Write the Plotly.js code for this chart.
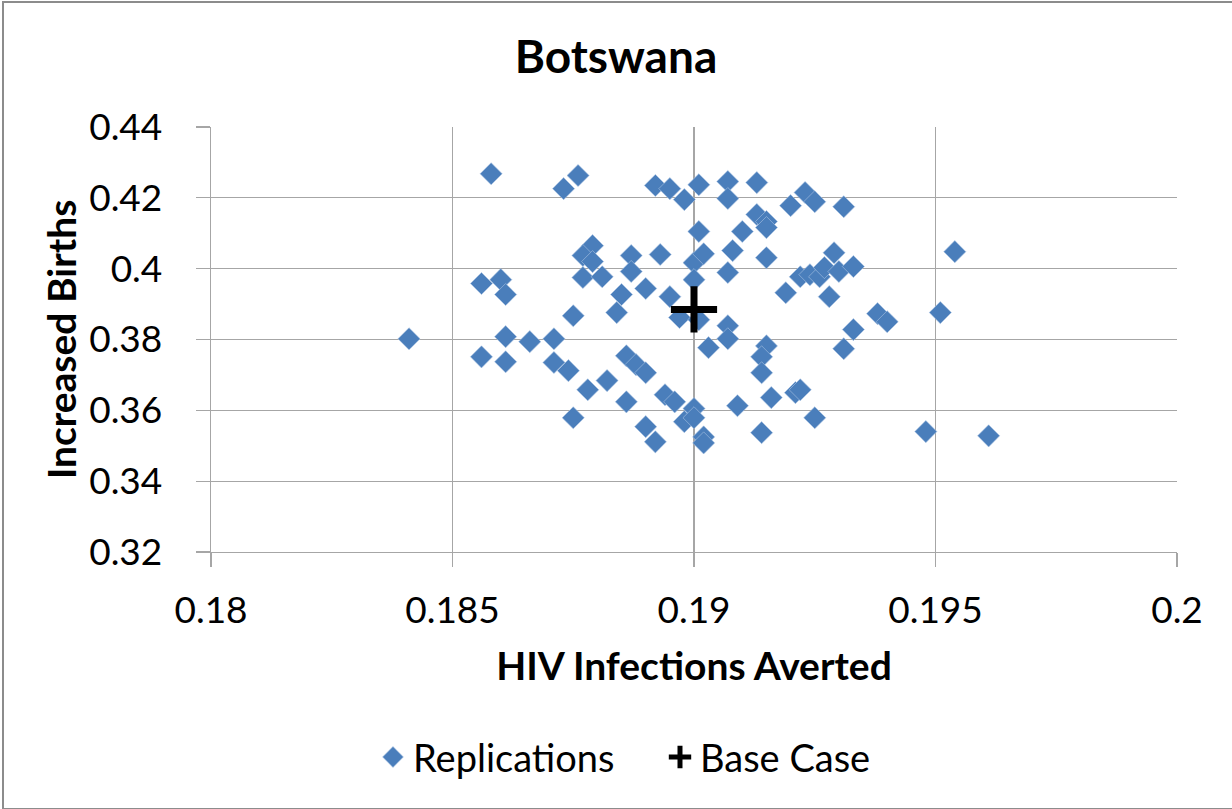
<!DOCTYPE html>
<html>
<head>
<meta charset="utf-8">
<script src="https://cdn.plot.ly/plotly-3.0.1.min.js"></script>
<style>
  html, body { margin: 0; padding: 0; background: #fff; overflow: hidden; }
  #chart { width: 1232px; height: 809px; }
  #frame { position: absolute; left: 2px; top: 1px; width: 1240px; height: 805px; border: 2px solid #8c8c8c; pointer-events: none; }
</style>
</head>
<body>
<div id="chart"></div>
<div id="frame"></div>
<script>
const chartTitle = "Botswana";
const xTitle = "HIV Infections Averted";
const yTitle = "Increased Births";
const seriesNames = ["Replications", "Base Case"];

const replicationsX = [
  0.1841, 0.1858, 0.1873, 0.1876, 0.1892, 0.1895, 0.1898, 0.1901, 0.1907, 0.1913,
  0.1907, 0.1923, 0.1925, 0.1920, 0.1931, 0.1913, 0.1915, 0.1915, 0.1910, 0.1901,
  0.1879, 0.1877, 0.1879, 0.1877, 0.1881, 0.1887, 0.1887, 0.1893, 0.1890, 0.1885,
  0.1884, 0.1875, 0.1895, 0.1900, 0.1902, 0.1900, 0.1897, 0.1901, 0.1907, 0.1907,
  0.1908, 0.1915, 0.1919, 0.1922, 0.1924, 0.1926, 0.1927, 0.1929, 0.1930, 0.1933,
  0.1928, 0.1954, 0.1856, 0.1860, 0.1861, 0.1861, 0.1866, 0.1871, 0.1856, 0.1861,
  0.1871, 0.1874, 0.1878, 0.1882, 0.1886, 0.1888, 0.1890, 0.1886, 0.1875, 0.1894,
  0.1896, 0.1900, 0.1898, 0.1900, 0.1890, 0.1892, 0.1902, 0.1902, 0.1909, 0.1916,
  0.1921, 0.1922, 0.1914, 0.1925, 0.1907, 0.1903, 0.1915, 0.1914, 0.1914, 0.1933,
  0.1931, 0.1938, 0.1940, 0.1951, 0.1948, 0.1961
];
const replicationsY = [
  0.3802, 0.4268, 0.4226, 0.4263, 0.4235, 0.4226, 0.4195, 0.4237, 0.4246, 0.4243,
  0.4198, 0.4215, 0.4189, 0.4178, 0.4175, 0.4153, 0.4133, 0.4116, 0.4105, 0.4105,
  0.4065, 0.4037, 0.4020, 0.3975, 0.3977, 0.4037, 0.3992, 0.4040, 0.3944, 0.3927,
  0.3876, 0.3867, 0.3921, 0.4017, 0.4042, 0.3969, 0.3862, 0.3856, 0.3839, 0.3989,
  0.4051, 0.4031, 0.3932, 0.3977, 0.3983, 0.3977, 0.4003, 0.4045, 0.3992, 0.4006,
  0.3921, 0.4048, 0.3958, 0.3969, 0.3927, 0.3808, 0.3794, 0.3802, 0.3751, 0.3737,
  0.3735, 0.3712, 0.3658, 0.3684, 0.3754, 0.3729, 0.3706, 0.3624, 0.3579, 0.3644,
  0.3624, 0.3605, 0.3568, 0.3579, 0.3554, 0.3511, 0.3525, 0.3508, 0.3613, 0.3636,
  0.3650, 0.3658, 0.3537, 0.3579, 0.3802, 0.3777, 0.3782, 0.3751, 0.3706, 0.3828,
  0.3774, 0.3873, 0.3850, 0.3876, 0.3540, 0.3528
];
const baseCaseX = [0.1900];
const baseCaseY = [0.3885];

const xTicks = [0.18, 0.185, 0.19, 0.195, 0.2];
const xTickLabels = ["0.18", "0.185", "0.19", "0.195", "0.2"];
const yTicks = [0.32, 0.34, 0.36, 0.38, 0.40, 0.42, 0.44];
const yTickLabels = ["0.32", "0.34", "0.36", "0.38", "0.4", "0.42", "0.44"];

const FONT = "Lato, 'Open Sans', sans-serif";
const GRID = "#a6a6a6";

const traces = [
  {
    type: "scatter", mode: "markers", name: seriesNames[0],
    x: replicationsX, y: replicationsY,
    marker: { symbol: "diamond", size: 17, color: "#4a7ebb", line: { width: 0.6, color: "#a9c3e3" } },
    cliponaxis: false
  },
  {
    type: "scatter", mode: "markers", name: seriesNames[1],
    x: baseCaseX, y: baseCaseY,
    marker: { symbol: "cross-thin", size: 33, color: "#000", line: { width: 7, color: "#000" } },
    cliponaxis: false
  }
];

const layout = {
  width: 1232, height: 809,
  margin: { l: 211, r: 55, t: 127, b: 256.5, pad: 0, autoexpand: false },
  paper_bgcolor: "#fff", plot_bgcolor: "#fff",
  font: { family: FONT, color: "#000", size: 37 },
  title: { text: "<b>" + chartTitle + "</b>", font: { family: FONT, size: 46, color: "#000" },
           x: 0.5, xanchor: "center", xref: "container", y: 0.93, yanchor: "middle", yref: "container" },
  xaxis: {
    range: [0.18, 0.2], tickvals: xTicks, ticktext: xTickLabels,
    showgrid: true, gridcolor: GRID, gridwidth: 1.3,
    showline: true, linecolor: GRID, linewidth: 1.3,
    ticks: "outside", ticklen: 14, tickcolor: GRID, tickwidth: 1.3,
    ticklabelstandoff: 11,
    zeroline: false,
    tickfont: { family: FONT, size: 37, color: "#000" },
    title: { text: "<b>" + xTitle + "</b>", font: { family: FONT, size: 39, color: "#000" }, standoff: 23 }
  },
  yaxis: {
    range: [0.32, 0.44], tickvals: yTicks, ticktext: yTickLabels,
    showgrid: true, gridcolor: GRID, gridwidth: 1.3,
    showline: true, linecolor: GRID, linewidth: 1.3,
    ticks: "outside", ticklen: 14, tickcolor: GRID, tickwidth: 1.3,
    ticklabelstandoff: 26,
    zeroline: false,
    tickfont: { family: FONT, size: 37, color: "#000" },
    title: { text: "<b>" + yTitle + "</b>", font: { family: FONT, size: 39, color: "#000" }, standoff: 0 }
  },
  showlegend: true,
  legend: {
    orientation: "h", x: 0.1677, xanchor: "left", y: -0.483, yanchor: "middle",
    entrywidth: 242, entrywidthmode: "pixels",
    font: { family: FONT, size: 38, color: "#000" },
    bgcolor: "rgba(0,0,0,0)", itemclick: false, itemdoubleclick: false
  }
};

Plotly.newPlot("chart", traces, layout, { displayModeBar: false, staticPlot: true });
</script>
</body>
</html>
